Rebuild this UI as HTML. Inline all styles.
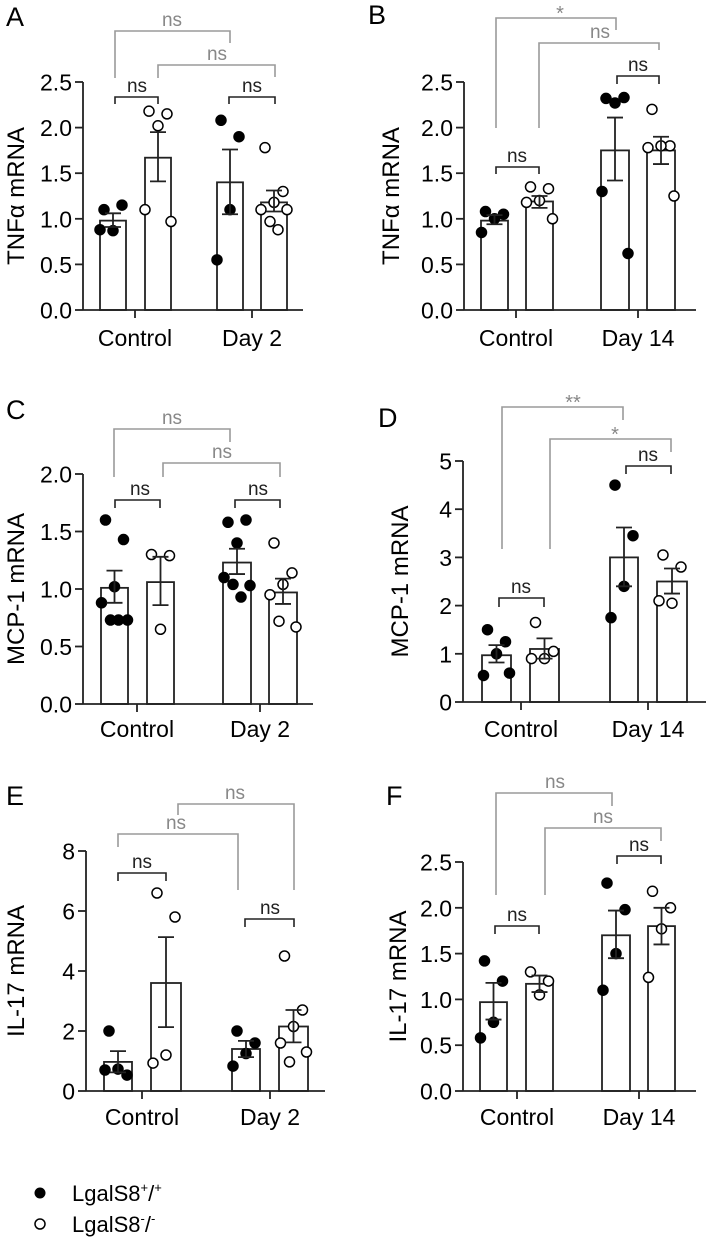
<!DOCTYPE html>
<html><head><meta charset="utf-8">
<style>
html,body{margin:0;padding:0;background:#fff;}
svg{display:block;font-family:"Liberation Sans",Arial,sans-serif;}
</style></head>
<body>
<svg id="fig" width="706" height="1240" viewBox="0 0 706 1240">
  <g>
    <circle cx="40" cy="1193" r="5.5" fill="#000"/>
    <text x="72" y="1201" font-size="22">LgalS8<tspan font-size="13" dy="-9">+</tspan><tspan dy="9">/</tspan><tspan font-size="13" dy="-9">+</tspan></text>
    <circle cx="40" cy="1224" r="5" fill="#fff" stroke="#000" stroke-width="1.5"/>
    <text x="72" y="1232" font-size="22">LgalS8<tspan font-size="13" dy="-9">-</tspan><tspan dy="9">/</tspan><tspan font-size="13" dy="-9">-</tspan></text>
  </g>
</svg>
<script>
// ---- data ----
const categoriesA = ["Control","Day 2"];
const categoriesB = ["Control","Day 14"];
// Panel A: TNFa, Day 2
const A_means = [0.98, 1.67, 1.40, 1.18];
const A_errLo = [0.91, 1.41, 1.05, 1.08];
const A_errHi = [1.06, 1.95, 1.76, 1.31];
const A_points = [[1.10,1.15,0.87,0.88],[2.18,2.15,2.02,1.10,0.97],[2.08,1.90,1.10,0.55],[1.78,1.30,1.18,1.10,1.10,0.97,0.88]];
const A_ticks = [0,0.5,1.0,1.5,2.0,2.5];
// Panel B: TNFa, Day 14
const B_means = [0.98, 1.19, 1.75, 1.75];
const B_errLo = [0.94, 1.12, 1.42, 1.60];
const B_errHi = [1.04, 1.25, 2.11, 1.90];
const B_points = [[1.08,1.05,1.00,0.85],[1.35,1.33,1.20,1.18,1.00],[2.32,2.33,2.27,1.30,0.62],[2.20,1.80,1.80,1.78,1.25]];
const B_ticks = [0,0.5,1.0,1.5,2.0,2.5];
// Panel C: MCP-1, Day 2
const C_means = [1.01, 1.06, 1.23, 0.97];
const C_errLo = [0.88, 0.86, 1.13, 0.87];
const C_errHi = [1.16, 1.28, 1.35, 1.09];
const C_points = [[1.60,1.43,1.02,0.88,0.73,0.73,0.73],[1.30,1.29,0.65],[1.58,1.60,1.40,1.10,1.03,1.04,0.93],[1.40,1.14,1.04,0.95,0.67,0.72]];
const C_ticks = [0,0.5,1.0,1.5,2.0];
// Panel D: MCP-1, Day 14
const D_means = [0.97, 1.10, 3.00, 2.50];
const D_errLo = [0.82, 0.90, 2.40, 2.25];
const D_errHi = [1.18, 1.32, 3.62, 2.77];
const D_points = [[1.50,1.25,1.00,0.55,0.60],[1.65,1.05,0.90,0.90],[4.50,3.45,2.40,1.75],[3.05,2.80,2.05,2.10]];
const D_ticks = [0,1,2,3,4,5];
// Panel E: IL-17, Day 2
const E_means = [0.97, 3.60, 1.40, 2.15];
const E_errLo = [0.62, 2.13, 1.13, 1.62];
const E_errHi = [1.33, 5.13, 1.67, 2.70];
const E_points = [[2.00,0.53,0.73,0.70],[6.60,5.80,1.20,0.93],[2.00,1.60,1.25,0.83],[4.50,2.70,2.15,1.60,1.30,0.97]];
const E_ticks = [0,2,4,6,8];
// Panel F: IL-17, Day 14
const F_means = [0.97, 1.17, 1.70, 1.80];
const F_errLo = [0.78, 1.08, 1.45, 1.60];
const F_errHi = [1.18, 1.26, 1.97, 2.00];
const F_points = [[1.42,1.20,0.75,0.58],[1.30,1.20,1.05],[2.27,1.98,1.50,1.10],[2.18,2.00,1.77,1.24]];
const F_ticks = [0,0.5,1.0,1.5,2.0,2.5];
const sigLabels = {A:["ns","ns","ns","ns"],B:["*","ns","ns","ns"],C:["ns","ns","ns","ns"],D:["**","*","ns","ns"],E:["ns","ns","ns","ns"],F:["ns","ns","ns","ns"]};

// ---- layout ----
const NS="http://www.w3.org/2000/svg";
const svg=document.getElementById('fig');
function mk(tag,attrs,parent){const e=document.createElementNS(NS,tag);for(const k in attrs)e.setAttribute(k,attrs[k]);(parent||svg).appendChild(e);return e;}

const panels=[
 {id:"A",title:"TNF\u03b1 mRNA",cats:categoriesA,means:A_means,lo:A_errLo,hi:A_errHi,pts:A_points,ticks:A_ticks,dec:1,max:2.5,
  ax:83,y0:310,yTop:82,xEnd:303,bars:[[100,126],[145,171],[217,243],[261,287]],catX:[135,252],catY:346,titleX:16,letterX:6,letterY:26,
  br:[{y:31,x1:115,x2:230,d1:78,d2:43,lx:172,gray:1},{y:65,x1:158,x2:275,d1:78,d2:77,lx:217,gray:1},{y:97,x1:115,x2:158,d1:104,d2:104,lx:137},{y:97,x1:229,x2:275,d1:104,d2:104,lx:252}]},
 {id:"B",title:"TNF\u03b1 mRNA",cats:categoriesB,means:B_means,lo:B_errLo,hi:B_errHi,pts:B_points,ticks:B_ticks,dec:1,max:2.5,
  ax:464,y0:310,yTop:82,xEnd:696,bars:[[481,508],[526,553],[601,629],[647,675]],catX:[516,638],catY:346,titleX:391,letterX:368,letterY:24,
  br:[{y:18,x1:496,x2:616,d1:128,d2:30,lx:560,gray:1},{y:43,x1:539,x2:659,d1:128,d2:50,lx:600,gray:1},{y:167,x1:496,x2:539,d1:174,d2:174,lx:517},{y:76,x1:617,x2:659,d1:84,d2:84,lx:638}]},
 {id:"C",title:"MCP-1 mRNA",cats:categoriesA,means:C_means,lo:C_errLo,hi:C_errHi,pts:C_points,ticks:C_ticks,dec:1,max:2.0,
  ax:83,y0:704,yTop:474,xEnd:313,bars:[[101,128],[147,174],[223,251],[269,297]],catX:[137,260],catY:737,titleX:16,letterX:6,letterY:419,
  br:[{y:429,x1:114,x2:230,d1:477,d2:442,lx:172,gray:1},{y:463,x1:163,x2:280,d1:477,d2:477,lx:222,gray:1},{y:500,x1:115,x2:160,d1:508,d2:508,lx:140},{y:500,x1:235,x2:280,d1:508,d2:508,lx:258}]},
 {id:"D",title:"MCP-1 mRNA",cats:categoriesB,means:D_means,lo:D_errLo,hi:D_errHi,pts:D_points,ticks:D_ticks,dec:0,max:5,
  ax:463,y0:702,yTop:461,xEnd:706,bars:[[482,511],[530,559],[610,638],[657,687]],catX:[521,648],catY:737,titleX:400,letterX:378,letterY:427,
  br:[{y:407,x1:502,x2:623,d1:549,d2:420,lx:573,gray:1},{y:439,x1:550,x2:671,d1:549,d2:452,lx:615,gray:1},{y:598,x1:499,x2:544,d1:607,d2:607,lx:521},{y:466,x1:626,x2:671,d1:474,d2:474,lx:648}]},
 {id:"E",title:"IL-17 mRNA",cats:categoriesA,means:E_means,lo:E_errLo,hi:E_errHi,pts:E_points,ticks:E_ticks,dec:0,max:8,
  ax:86,y0:1091,yTop:851,xEnd:325,bars:[[104,132],[151,181],[232,260],[279,308]],catX:[142,270],catY:1125,titleX:16,letterX:6,letterY:805,
  br:[{y:834,x1:118,x2:238,d1:847,d2:890,lx:176,gray:1},{y:804,x1:178,x2:294,d1:815,d2:890,lx:235,gray:1},{y:873,x1:118,x2:166,d1:881,d2:881,lx:142},{y:919,x1:245,x2:294,d1:927,d2:927,lx:270}]},
 {id:"F",title:"IL-17 mRNA",cats:categoriesB,means:F_means,lo:F_errLo,hi:F_errHi,pts:F_points,ticks:F_ticks,dec:1,max:2.5,
  ax:463,y0:1091,yTop:862,xEnd:696,bars:[[480,507],[526,553],[602,630],[648,675]],catX:[517,639],catY:1125,titleX:398,letterX:386,letterY:805,
  br:[{y:793,x1:496,x2:612,d1:895,d2:806,lx:555,gray:1},{y:828,x1:545,x2:661,d1:895,d2:841,lx:603,gray:1},{y:926,x1:495,x2:539,d1:934,d2:934,lx:517},{y:856,x1:617,x2:661,d1:864,d2:864,lx:639}]}
];
const jitter=[-9,9,0,-13,13,-4,4];

panels.forEach(p=>{
  const g=mk('g',{});
  
  
  const y=v=>p.y0-(v/p.max)*(p.y0-p.yTop);
  const lt=mk('text',{x:p.letterX,y:p.letterY,'font-size':27},g);lt.textContent=p.id;
  
  
  // y axis
  const ya=mk('line',{x1:p.ax,y1:p.yTop,x2:p.ax,y2:p.y0,stroke:'#222','stroke-width':1.8},g);
  
  
  p.ticks.forEach(t=>{
    const ty=y(t);
    mk('line',{x1:p.ax-8,y1:ty,x2:p.ax,y2:ty,stroke:'#222','stroke-width':1.8},g);
    const tl=mk('text',{x:p.ax-11,y:ty+8.5,'font-size':23,'text-anchor':'end'},g);
    tl.textContent=t.toFixed(p.dec);
    
    
  });
  const tt=mk('text',{x:p.titleX,y:(p.yTop+p.y0)/2,'font-size':24,'text-anchor':'middle',transform:`rotate(-90 ${p.titleX} ${(p.yTop+p.y0)/2}) translate(0 8)`},g);
  tt.textContent=p.title;
  
  
  // bars
  p.means.forEach((m,i)=>{
    const [x1,x2]=p.bars[i];const cx=(x1+x2)/2;
    const b=mk('rect',{x:x1,y:y(m),width:x2-x1,height:p.y0-y(m),fill:'#fff',stroke:'#222','stroke-width':1.8},g);
    
    
    // points
    p.pts[i].forEach((v,j)=>{
      const c=mk('circle',{cx:cx+jitter[j%jitter.length],cy:y(v),r:5,fill:i%2?'#fff':'#000',stroke:'#000','stroke-width':1.5},g);
      
      
    });
    // error bar
    const e=mk('path',{d:`M${cx},${y(p.lo[i])}V${y(p.hi[i])}M${cx-8},${y(p.hi[i])}H${cx+8}M${cx-8},${y(p.lo[i])}H${cx+8}`,stroke:'#222','stroke-width':1.8,fill:'none'},g);
    
    
  });
  // x axis
  const xa=mk('line',{x1:p.ax,y1:p.y0,x2:p.xEnd,y2:p.y0,stroke:'#222','stroke-width':1.8},g);
  
  
  p.catX.forEach((cx,k)=>{
    mk('line',{x1:cx,y1:p.y0,x2:cx,y2:p.y0+8,stroke:'#222','stroke-width':1.8},g);
    const cl=mk('text',{x:cx,y:p.catY,'font-size':23,'text-anchor':'middle'},g);
    cl.textContent=p.cats[k];
    
    
  });
  // brackets
  p.br.forEach((b,k)=>{
    const col=b.gray?'#9a9a9a':'#222';
    const br=mk('path',{d:`M${b.x1},${b.d1}V${b.y}H${b.x2}V${b.d2}`,stroke:col,'stroke-width':1.6,fill:'none'},g);
    
    
    const lab=sigLabels[p.id][k];
    const star=lab.indexOf('*')>=0;
    const s=mk('text',{x:b.lx,y:b.y-(star?-2:5),'font-size':star?20:19,'text-anchor':'middle',fill:b.gray?'#888':'#222'},g);
    s.textContent=lab;
    
    
  });
});
</script>
</body></html>
